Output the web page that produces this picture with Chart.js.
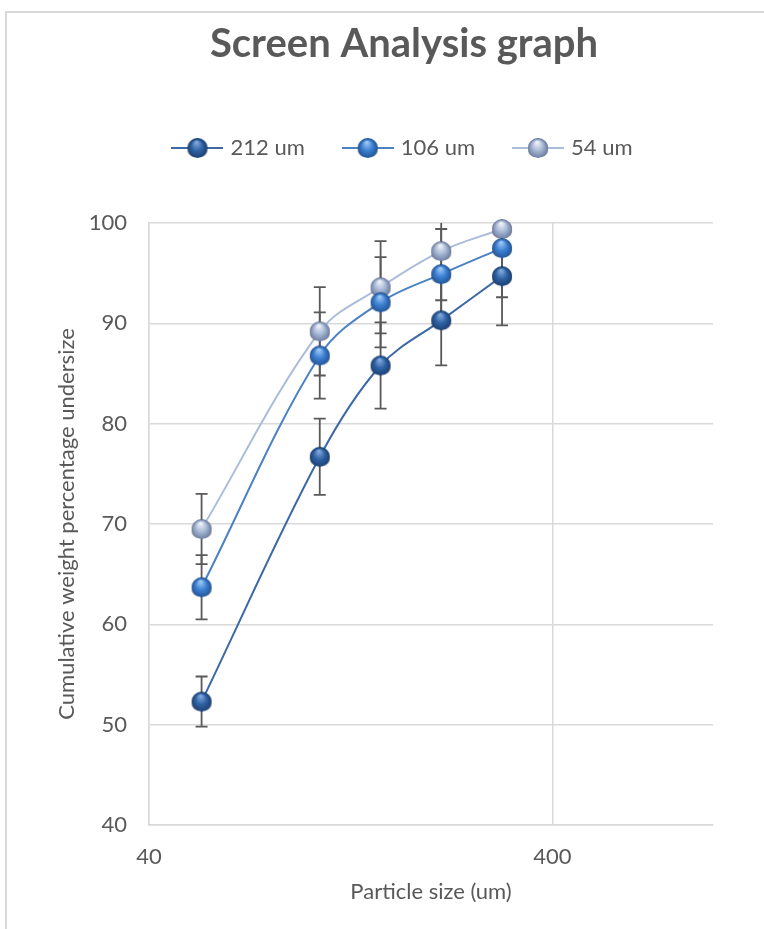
<!DOCTYPE html>
<html>
<head>
<meta charset="utf-8">
<script src="https://cdn.jsdelivr.net/npm/chart.js@4.4.0/dist/chart.umd.min.js"></script>
<style>
    html, body { margin: 0; padding: 0; background: #fff; overflow: hidden; width: 764px; height: 929px; }
    #screenChart { position: absolute; left: 7px; top: 13px; display: block; }
    .edge { position: absolute; background: #d9d9d9; }
    .edge.left { left: 5px; top: 11px; width: 2px; height: 918px; }
    .edge.top { left: 5px; top: 11px; width: 759px; height: 2px; }
</style>
</head>
<body>
<div class="edge left"></div>
<div class="edge top"></div>
<canvas id="screenChart" width="794" height="916"></canvas>
<script>
// particle size (um) on a log axis
const particleSizes = [54, 106, 150, 212, 300];
const xTickValues = [40, 400];
const seriesLabels = ['212 um', '106 um', '54 um'];

// cumulative weight % undersize for each screen
const under212 = [52.3, 76.7, 85.8, 90.3, 94.7];
const under106 = [63.7, 86.8, 92.1, 94.9, 97.5];
const under54 = [69.5, 89.2, 93.6, 97.2, 99.4];

// error bar half-heights (+/-)
const err212 = [2.5, 3.8, 4.3, 4.5, 4.9];
const err106 = [3.2, 4.3, 4.5, 4.5, 4.9];
const err54 = [3.5, 4.4, 4.6, 4.9, 5.0];

const textGrey = '#595959';
const gridGrey = '#d9d9d9';

// excel-ish 3D ball marker with a dark square peeking out behind it
function makeSphere(light, base, dark) {
    const size = 24;
    const c = document.createElement('canvas');
    c.width = size; c.height = size;
    const ctx = c.getContext('2d');
    const cx = size / 2, cy = size / 2, r = 10;
    ctx.fillStyle = 'rgba(70,70,70,0.6)';
    ctx.beginPath();
    ctx.roundRect(cx - r, cy - r + 2, r * 2, r * 2 - 3, 7);
    ctx.fill();
    const g = ctx.createRadialGradient(cx - r * 0.1, cy - r * 0.6, r * 0.05, cx, cy + r * 0.1, r * 1.05);
    g.addColorStop(0, light);
    g.addColorStop(0.5, base);
    g.addColorStop(1, dark);
    ctx.fillStyle = g;
    ctx.beginPath();
    ctx.arc(cx, cy, r, 0, Math.PI * 2);
    ctx.fill();
    return c;
}

function makeLegendIcon(sphere, lineColor) {
    const c = document.createElement('canvas');
    c.width = 52; c.height = 24;
    const ctx = c.getContext('2d');
    ctx.strokeStyle = lineColor;
    ctx.lineWidth = 2;
    ctx.beginPath();
    ctx.moveTo(0, 12);
    ctx.lineTo(52, 12);
    ctx.stroke();
    ctx.drawImage(sphere, 14, 0);
    return c;
}

const lineColors = ['#3c69a6', '#4a82c4', '#a9bcda'];
const spheres = [
    makeSphere('#86acdf', '#2f62a4', '#173a6a'),
    makeSphere('#a3cbf4', '#3b7fd2', '#1e4e8e'),
    makeSphere('#f2f5fa', '#a7b8d4', '#62749a')
];
const legendIcons = spheres.map((s, i) => makeLegendIcon(s, lineColors[i]));

const seriesValues = [under212, under106, under54];
const seriesErrors = [err212, err106, err54];

const errorBarPlugin = {
    id: 'errorBars',
    beforeDatasetsDraw(chart) {
        const { ctx, chartArea, scales } = chart;
        ctx.save();
        ctx.beginPath();
        ctx.rect(chartArea.left, chartArea.top, chartArea.right - chartArea.left, chartArea.bottom - chartArea.top);
        ctx.clip();
        ctx.strokeStyle = textGrey;
        ctx.lineWidth = 1.8;
        seriesValues.forEach((vals, si) => {
            vals.forEach((v, i) => {
                const e = seriesErrors[si][i];
                const x = scales.x.getPixelForValue(particleSizes[i]);
                const yTop = scales.y.getPixelForValue(v + e);
                const yBot = scales.y.getPixelForValue(v - e);
                ctx.beginPath();
                ctx.moveTo(x, yTop); ctx.lineTo(x, yBot);
                ctx.moveTo(x - 6, yTop); ctx.lineTo(x + 6, yTop);
                ctx.moveTo(x - 6, yBot); ctx.lineTo(x + 6, yBot);
                ctx.stroke();
            });
        });
        ctx.restore();
    }
};

const datasets = seriesLabels.map((label, i) => ({
    label: label,
    data: particleSizes.map((x, j) => ({ x: x, y: seriesValues[i][j] })),
    borderColor: lineColors[i],
    borderWidth: 2,
    tension: 0.35,
    pointStyle: spheres[i],
    pointRadius: 10,
    pointHoverRadius: 10,
    clip: false
}));

new Chart(document.getElementById('screenChart'), {
    type: 'line',
    data: { datasets: datasets },
    plugins: [errorBarPlugin],
    options: {
        responsive: false,
        animation: false,
        devicePixelRatio: 1,
        layout: { padding: { left: 0, right: 0, top: 0, bottom: 24 } },
        plugins: {
            title: {
                display: true,
                text: 'Screen Analysis graph',
                color: textGrey,
                font: { family: 'Lato', size: 40, weight: 'bold' },
                padding: { top: 7, bottom: 28 }
            },
            legend: {
                display: true,
                labels: {
                    color: textGrey,
                    font: { family: 'Lato', size: 22 },
                    usePointStyle: true,
                    pointStyleWidth: 44,
                    padding: 41,
                    generateLabels: (chart) => chart.data.datasets.map((ds, i) => ({
                        text: ds.label,
                        pointStyle: legendIcons[i],
                        fillStyle: lineColors[i],
                        strokeStyle: lineColors[i],
                        lineWidth: 0,
                        fontColor: textGrey,
                        datasetIndex: i
                    }))
                }
            },
            tooltip: { enabled: false }
        },
        scales: {
            x: {
                type: 'logarithmic',
                position: 'bottom',
                min: 40,
                max: 1000,
                afterBuildTicks: (scale) => {
                    scale.ticks = xTickValues.map(v => ({ value: v }));
                },
                afterFit: (scale) => { scale.height = 80; },
                grid: { color: gridGrey, lineWidth: 1.5, drawTicks: false },
                border: { color: gridGrey, width: 1.5 },
                ticks: {
                    color: textGrey,
                    font: { family: 'Lato', size: 22 },
                    padding: 19,
                    maxRotation: 0,
                    callback: (v) => String(v)
                },
                title: {
                    display: true,
                    text: 'Particle size (um)',
                    color: textGrey,
                    font: { family: 'Lato', size: 22 },
                    padding: { top: 0, bottom: 0 }
                }
            },
            y: {
                position: 'left',
                min: 40,
                max: 100,
                afterFit: (scale) => { scale.width = 142; },
                grid: { color: gridGrey, lineWidth: 1.5, drawTicks: false },
                border: { color: gridGrey, width: 1.5 },
                ticks: {
                    stepSize: 10,
                    color: textGrey,
                    font: { family: 'Lato', size: 22 },
                    padding: 22
                },
                title: {
                    display: true,
                    text: 'Cumulative weight percentage undersize',
                    color: textGrey,
                    font: { family: 'Lato', size: 22 },
                    padding: { top: 47, bottom: 0 }
                }
            },
            // empty spacer axes to place the plot area like the original
            xTop: {
                type: 'linear',
                position: 'top',
                display: true,
                grid: { display: false },
                border: { display: false },
                ticks: { display: false },
                afterFit: (scale) => { scale.height = 54; }
            },
            yRight: {
                type: 'linear',
                position: 'right',
                display: true,
                grid: { display: false },
                border: { display: false },
                ticks: { display: false },
                afterFit: (scale) => { scale.width = 88; }
            }
        }
    }
});
</script>
</body>
</html>
